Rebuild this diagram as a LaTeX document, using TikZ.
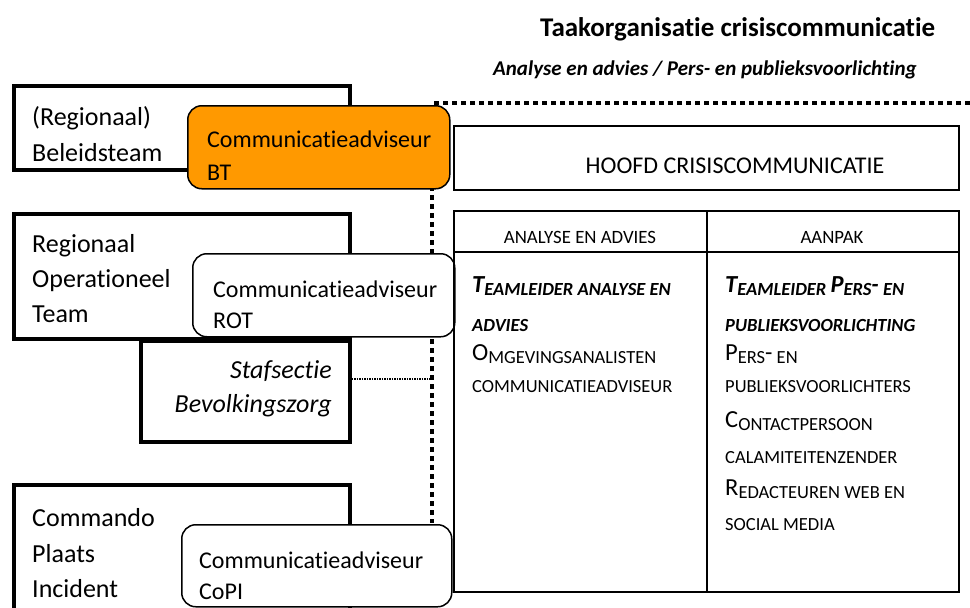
\documentclass[tikz,border=0pt]{standalone}
\usepackage{fontspec}
\setmainfont{Carlito}[Ligatures=NoCommon]
\definecolor{orangeBT}{RGB}{255,153,0}
\newcommand{\fs}[1]{\fontsize{#1}{#1}\selectfont}
\newcommand{\capsl}[2]{{\fs{24.5}#1}\raisebox{-3pt}{\fs{18.5}#2}}
\newcommand{\lowsc}[1]{\raisebox{-3pt}{\fs{18.5}#1}}
\begin{document}
\begin{tikzpicture}[x=1pt,y=-1pt,
  thickbox/.style={draw, line width=4pt, inner sep=0pt, anchor=north west},
  advbox/.style={draw, line width=1.5pt, rounded corners=14pt, inner sep=0pt, anchor=north west, fill=white},
  thinbox/.style={draw, line width=1.5pt, inner sep=0pt, anchor=north west},
  txt/.style={inner sep=0pt, anchor=base west, font=\fs{26}},
  advtxt/.style={inner sep=0pt, anchor=base west, font=\fs{24}},
  small/.style={inner sep=0pt, anchor=base west, font=\fs{18.5}},
  boldsmall/.style={inner sep=0pt, anchor=base west, font=\fs{18.5}\bfseries\itshape},
  bigdots/.style={line width=4.5pt, dash pattern=on 5pt off 4pt},
  thindots/.style={line width=1.5pt, dash pattern=on 1.5pt off 1pt}]
\useasboundingbox (0,0) rectangle (970,608);

% title
\node[inner sep=0pt, anchor=base west, font=\fs{27}\bfseries] (title) at (540,36) {Taakorganisatie crisiscommunicatie};
\node[inner sep=0pt, anchor=base west, font=\fs{21}\bfseries\itshape] (subtitle) at (493,75) {Analyse en advies / Pers- en publieksvoorlichting};

% dotted lines
\coordinate (dotR) at (970,103);
\coordinate (dotC) at (432,103);
\coordinate (dotB) at (432,523);
\draw[bigdots] (dotR) -- (dotC) -- (dotB);

% left thick boxes
\node[thickbox, minimum width=336pt, minimum height=84pt] (bt) at (12,84) {};
\node[thickbox, minimum width=336pt, minimum height=125pt] (rot) at (12,212) {};
\node[thickbox, minimum width=209pt, minimum height=101pt] (staf) at (139,339) {};
\node[thickbox, minimum width=336pt, minimum height=140pt] (copi) at (12,483) {};

\coordinate (stafR) at (349,379);
\coordinate (stafL) at (432,379);
\draw[thindots] (stafR) -- (stafL);

% advisor boxes
\node[advbox, fill=orangeBT, minimum width=262pt, minimum height=83pt] (advbt) at (187,105) {};
\node[advbox, minimum width=262pt, minimum height=83pt] (advrot) at (192,253) {};
\node[advbox, minimum width=270pt, minimum height=82pt] (advcopi) at (181,524) {};

% right boxes
\node[thinbox, minimum width=505pt, minimum height=64pt] (hoofd) at (453,125) {};
\node[thinbox, minimum width=505pt, minimum height=381pt] (table) at (453,210) {};
\coordinate (colT) at (707,210);
\coordinate (colB) at (707,591);
\coordinate (rowL) at (453,252);
\coordinate (rowR) at (958,252);
\draw[line width=1.5pt] (colT) -- (colB);
\draw[line width=1.5pt] (rowL) -- (rowR);

% left texts
\node[txt] (btT1) at (32,125) {(Regionaal)};
\node[txt] (btT2) at (32,161) {Beleidsteam};
\node[advtxt] (btA1) at (207,147) {Communicatieadviseur};
\node[advtxt] (btA2) at (207,180) {BT};
\node[txt] (rotT1) at (32,252) {Regionaal};
\node[txt] (rotT2) at (32,287) {Operationeel};
\node[txt] (rotT3) at (32,322) {Team};
\node[advtxt] (rotA1) at (213,297) {Communicatieadviseur};
\node[advtxt] (rotA2) at (213,328) {ROT};
\node[txt, anchor=base east, font=\fs{26}\itshape] (st1) at (332,378) {Stafsectie};
\node[txt, anchor=base east, font=\fs{26}\itshape] (st2) at (332,412) {Bevolkingszorg};
\node[txt] (cT1) at (32,526) {Commando};
\node[txt] (cT2) at (32,562) {Plaats};
\node[txt] (cT3) at (32,597) {Incident};
\node[advtxt] (cA1) at (199,568) {Communicatieadviseur};
\node[advtxt] (cA2) at (199,599) {CoPI};

% right texts
\node[inner sep=0pt, anchor=base, font=\fs{24}] (hoofdT) at (735,173) {HOOFD CRISISCOMMUNICATIE};
\node[inner sep=0pt, anchor=base, font=\fs{18.8}] (h1) at (580,243) {ANALYSE EN ADVIES};
\node[inner sep=0pt, anchor=base, font=\fs{18.8}] (h2) at (832,243) {AANPAK};

\node[boldsmall] (a1) at (472,292) {\capsl{T}{EAMLEIDER ANALYSE EN}};
\node[boldsmall] (a2) at (472,331) {ADVIES};
\node[small] (a3) at (472,360) {\capsl{O}{MGEVINGSANALISTEN}};
\node[small] (a4) at (472,392) {COMMUNICATIEADVISEUR};

\node[boldsmall] (b1) at (725,292) {\capsl{T}{EAMLEIDER }\capsl{P}{ERS}{\fs{24}-}\lowsc{ EN}};
\node[boldsmall] (b2) at (725,331) {PUBLIEKSVOORLICHTING};
\node[small] (b3) at (725,360) {\capsl{P}{ERS}{\fs{24}-}\lowsc{ EN}};
\node[small] (b4) at (725,392) {PUBLIEKSVOORLICHTERS};
\node[small] (b5) at (725,427) {\capsl{C}{ONTACTPERSOON}};
\node[small] (b6) at (725,463) {CALAMITEITENZENDER};
\node[small] (b7) at (725,495) {\capsl{R}{EDACTEUREN WEB EN}};
\node[small] (b8) at (725,530) {SOCIAL MEDIA};
\end{tikzpicture}
\end{document}
